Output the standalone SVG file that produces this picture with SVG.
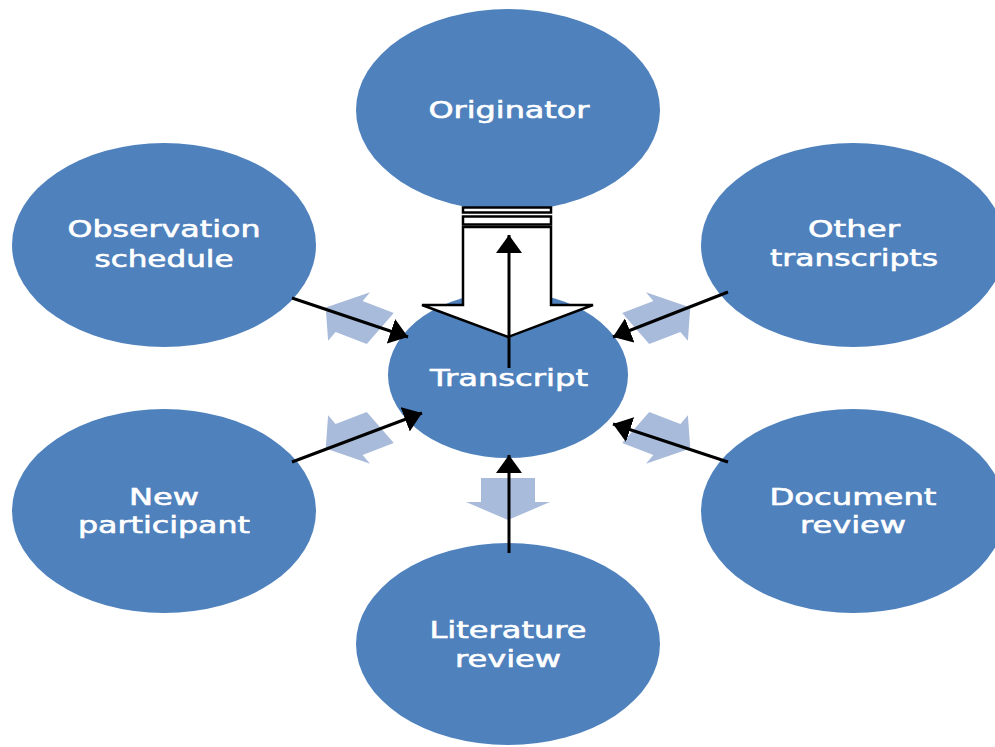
<svg xmlns="http://www.w3.org/2000/svg" width="995" height="747" viewBox="0 0 995 747">
<style>
.node{fill:#4F81BD}
.lbl{font-family:"DejaVu Sans","Liberation Sans",sans-serif;font-size:23px;fill:#FFFFFF;stroke:#FFFFFF;stroke-width:0.6;text-anchor:middle}
.flow{fill:#A8BBDA}
.conn{stroke:#000;stroke-width:3;fill:none;marker-end:url(#ah)}
.open{fill:#FFFFFF;stroke:#000;stroke-width:2.5;stroke-linejoin:miter}
</style>
<defs>
<marker id="ah" markerUnits="userSpaceOnUse" markerWidth="20" markerHeight="26" refX="18" refY="13" orient="auto">
<path d="M0,0 L18,13 L0,26 z" fill="#000"/>
</marker>
<polygon id="blk" points="-21,-18 3,-18 3,-28 21,0 3,28 3,18 -21,18"/>
</defs>
<rect width="995" height="747" fill="#FFFFFF"/>
<g id="originator"><ellipse class="node" cx="508" cy="110" rx="152" ry="101"/><text class="lbl" x="509" y="118" textLength="161" lengthAdjust="spacingAndGlyphs">Originator</text></g>
<g id="observation-schedule"><ellipse class="node" cx="164" cy="245" rx="152" ry="102"/><text class="lbl" x="164" y="237" textLength="193" lengthAdjust="spacingAndGlyphs">Observation</text><text class="lbl" x="164" y="267" textLength="139" lengthAdjust="spacingAndGlyphs">schedule</text></g>
<g id="other-transcripts"><ellipse class="node" cx="853" cy="245" rx="152" ry="102"/><text class="lbl" x="854" y="237" textLength="92" lengthAdjust="spacingAndGlyphs">Other</text><text class="lbl" x="854" y="266" textLength="168" lengthAdjust="spacingAndGlyphs">transcripts</text></g>
<g id="new-participant"><ellipse class="node" cx="164" cy="511" rx="152" ry="102"/><text class="lbl" x="164" y="505" textLength="70" lengthAdjust="spacingAndGlyphs">New</text><text class="lbl" x="164" y="533" textLength="172" lengthAdjust="spacingAndGlyphs">participant</text></g>
<g id="document-review"><ellipse class="node" cx="853" cy="511" rx="152" ry="102"/><text class="lbl" x="853" y="505" textLength="167" lengthAdjust="spacingAndGlyphs">Document</text><text class="lbl" x="853" y="533" textLength="106" lengthAdjust="spacingAndGlyphs">review</text></g>
<g id="literature-review"><ellipse class="node" cx="508" cy="644" rx="152" ry="101"/><text class="lbl" x="508" y="638" textLength="157" lengthAdjust="spacingAndGlyphs">Literature</text><text class="lbl" x="508" y="667" textLength="106" lengthAdjust="spacingAndGlyphs">review</text></g>
<g id="transcript"><ellipse class="node" cx="508" cy="375" rx="120" ry="83"/></g>
<g id="connectors">
<use href="#blk" class="flow" transform="translate(353,318) scale(1.5,1) rotate(210)"/>
<use href="#blk" class="flow" transform="translate(663,318) scale(1.5,1) rotate(-30)"/>
<use href="#blk" class="flow" transform="translate(353,438) scale(1.5,1) rotate(150)"/>
<use href="#blk" class="flow" transform="translate(663,438) scale(1.5,1) rotate(30)"/>
<use href="#blk" class="flow" transform="translate(508,499) scale(1.5,1) rotate(90)"/>
<rect class="open" x="463" y="207.5" width="88" height="5" stroke-width="2"/>
<rect class="open" x="463" y="216.5" width="88" height="8" stroke-width="2"/>
<polygon class="open" points="463,227 551,227 551,305 593,305 508,337 422,305 463,305"/>
<line class="conn" x1="509" y1="368" x2="509" y2="235"/>
<line class="conn" x1="292" y1="298" x2="408" y2="337"/>
<line class="conn" x1="728" y1="292" x2="613" y2="337"/>
<line class="conn" x1="292" y1="462" x2="422" y2="413"/>
<line class="conn" x1="728" y1="462" x2="613" y2="424"/>
<line class="conn" x1="509" y1="553" x2="509" y2="455"/>
</g>
<text class="lbl" x="509" y="386" textLength="158" lengthAdjust="spacingAndGlyphs">Transcript</text>
</svg>
